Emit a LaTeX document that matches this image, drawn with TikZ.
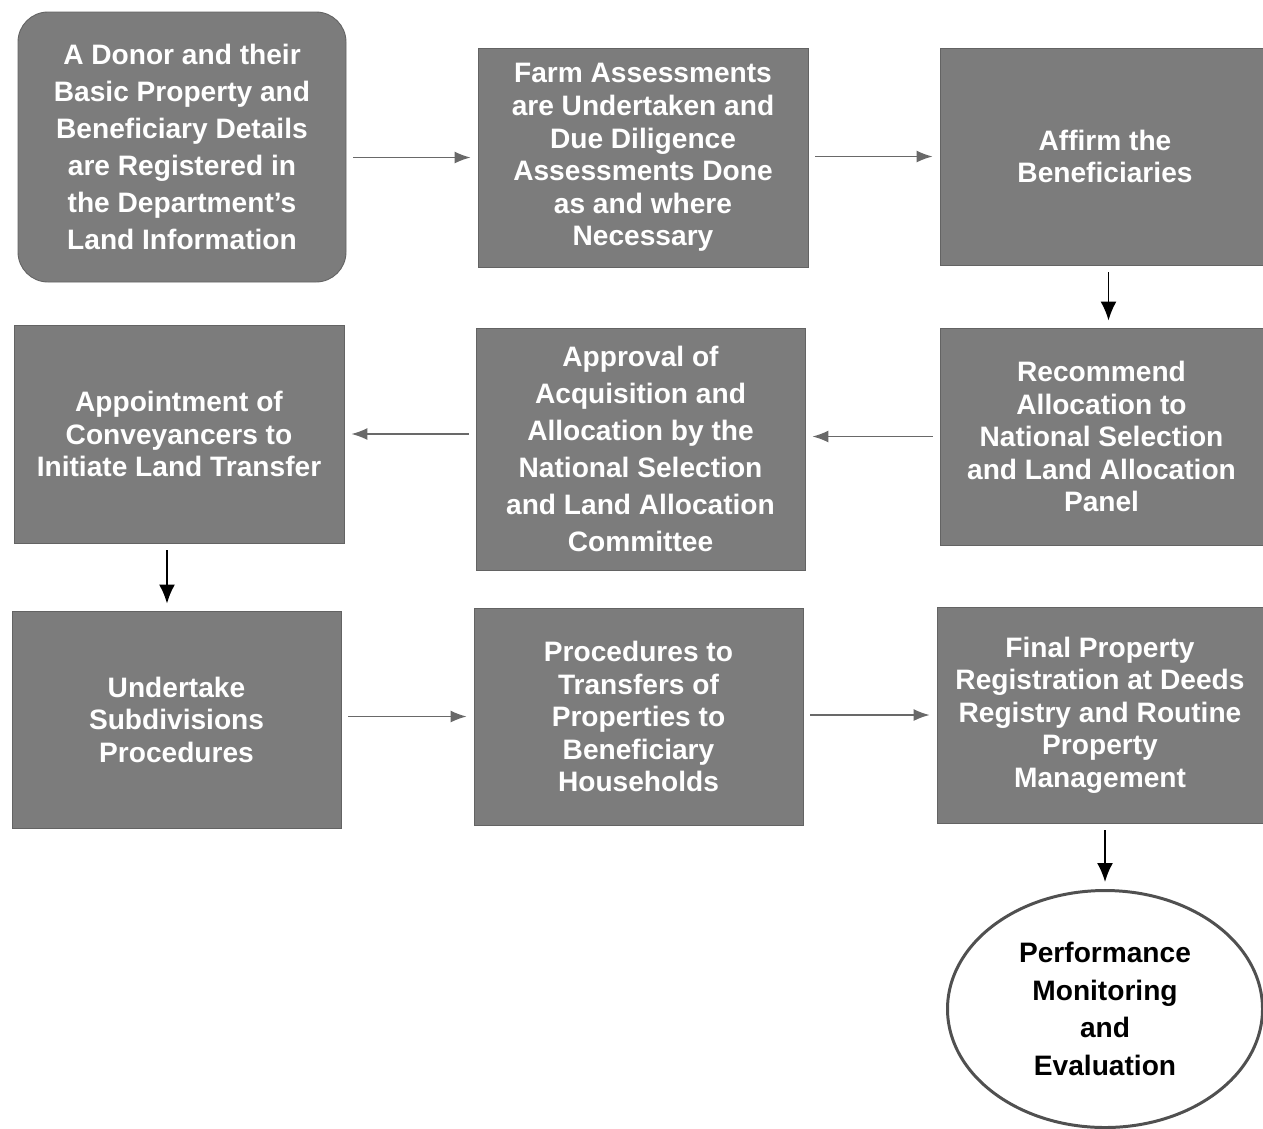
\documentclass[tikz,border=0pt]{standalone}
\usepackage{fontspec}
\setmainfont{Liberation Sans}
\usetikzlibrary{arrows.meta,shapes.geometric}

\definecolor{stepgrey}{RGB}{124,124,124}
\definecolor{arrowgrey}{RGB}{105,105,105}
\definecolor{ringgrey}{RGB}{80,80,80}

\tikzset{
  stepbox/.style={draw=stepgrey!80!black, line width=0.5pt, fill=stepgrey, text=white,
    font=\bfseries\fontsize{16}{18.5}\selectfont, align=center, inner sep=0pt,
    minimum width=6.58cm, minimum height=4.34cm},
  widebox/.style={stepbox, font=\bfseries\fontsize{16}{21}\selectfont},
  flowh/.style={draw=arrowgrey, line width=0.8pt, -{Latex[length=3.2mm,width=2.4mm]},
    shorten <=0.14cm, shorten >=0.14cm},
  flowv/.style={draw=black, line width=1.1pt, -{Latex[length=3.8mm,width=3.2mm]},
    shorten <=0.14cm, shorten >=0.14cm},
}

\begin{document}
\begin{tikzpicture}

\useasboundingbox (0,0) rectangle (25.26,-22.56);

% Ligne 1
\node[widebox, rounded corners=0.6cm, minimum width=6.56cm, minimum height=5.4cm] (donor) at (3.64,-2.94)
  {A Donor and their\\Basic Property and\\Beneficiary Details\\are Registered in\\the Department's\\Land Information};
\node[stepbox, minimum width=6.6cm, minimum height=4.38cm] (farm) at (12.86,-3.15)
  {\raisebox{-0.08cm}{\parbox{6.4cm}{\centering Farm Assessments\\are Undertaken and\\Due Diligence\\Assessments Done\\as and where\\Necessary}}};
\node[stepbox, minimum width=6.46cm] (affirm) at (22.03,-3.13)
  {\hspace*{0.14cm}Affirm the\\\hspace*{0.14cm}Beneficiaries};

% Ligne 2
\node[stepbox, minimum width=6.6cm, minimum height=4.36cm] (convey) at (3.58,-8.68)
  {Appointment of\\Conveyancers to\\Initiate Land Transfer};
\node[widebox, minimum height=4.84cm] (approve) at (12.81,-8.98)
  {Approval of\\Acquisition and\\Allocation by the\\National Selection\\and Land Allocation\\Committee};
\node[stepbox, minimum width=6.46cm] (recommend) at (22.03,-8.73)
  {Recommend\\Allocation to\\National Selection\\and Land Allocation\\Panel};

% Ligne 3
\node[stepbox] (subdiv) at (3.53,-14.39)
  {Undertake\\Subdivisions\\Procedures};
\node[stepbox] (transfer) at (12.77,-14.33)
  {Procedures to\\Transfers of\\Properties to\\Beneficiary\\Households};
\node[stepbox, minimum width=6.52cm, minimum height=4.32cm] (final) at (22.0,-14.3)
  {Final Property\\Registration at Deeds\\Registry and Routine\\Property\\Management};

% Evaluation
\node[ellipse, draw=ringgrey, line width=1.7pt, fill=white, align=center, inner sep=0pt,
  minimum width=6.3cm, minimum height=4.74cm,
  font=\bfseries\fontsize{16}{21.3}\selectfont] (monitor) at (22.1,-20.18)
  {Performance\\Monitoring\\and\\Evaluation};

% Relations
\draw[flowh] (donor.east |- farm.west) -- (farm.west);
\draw[flowh] (farm.east |- affirm.west) -- (affirm.west);
\draw[flowv] ([xshift=0.14cm]affirm.south) -- ([xshift=0.14cm]affirm.south |- recommend.north);
\draw[flowh] (recommend.west) -- (approve.east |- recommend.west);
\draw[flowh] (approve.west |- convey.east) -- (convey.east);
\draw[flowv] ([xshift=-0.24cm]convey.south) -- ([xshift=-0.24cm]convey.south |- subdiv.north);
\draw[flowh] (subdiv.east |- transfer.west) -- (transfer.west);
\draw[flowh] (transfer.east |- final.west) -- (final.west);
\draw[flowv] (final.south -| monitor.north) -- (monitor.north);

\end{tikzpicture}
\end{document}
